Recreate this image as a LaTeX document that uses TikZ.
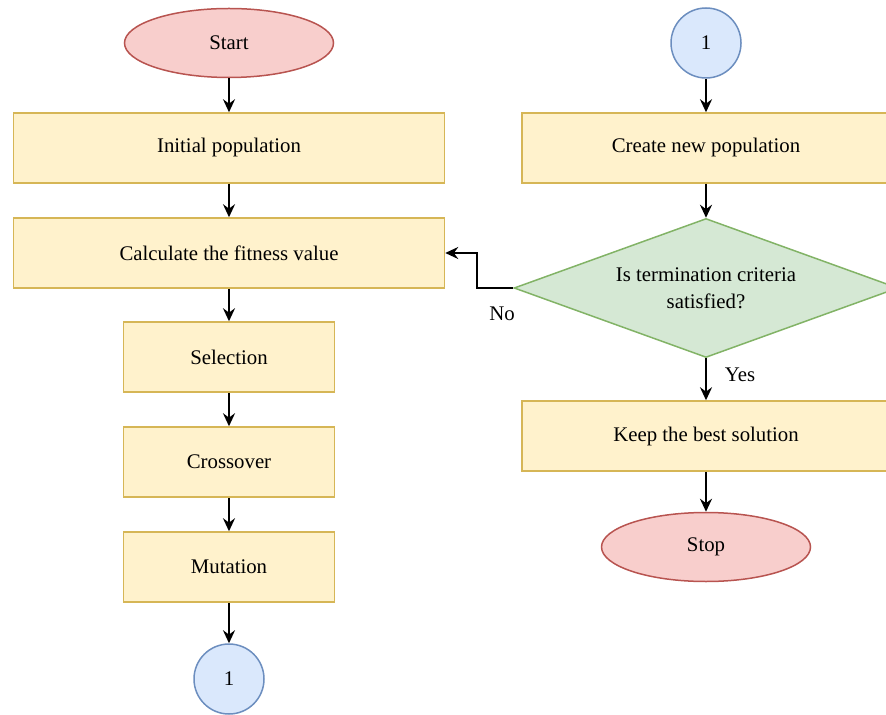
\documentclass[tikz,border=0pt]{standalone}
\usepackage{fontspec}
\setmainfont{Liberation Serif}
\usetikzlibrary{positioning,shapes,arrows.meta}

\definecolor{procfill}{HTML}{FFF2CC}
\definecolor{procline}{HTML}{D6B656}
\definecolor{termfill}{HTML}{F8CECC}
\definecolor{termline}{HTML}{B85450}
\definecolor{connfill}{HTML}{DAE8FC}
\definecolor{connline}{HTML}{6C8EBF}
\definecolor{decfill}{HTML}{D5E8D4}
\definecolor{decline}{HTML}{82B366}

\tikzset{
	proc/.style={rectangle, draw=procline, fill=procfill, line width=0.75pt, minimum height=35pt, inner sep=0pt},
	term/.style={ellipse, draw=termline, fill=termfill, line width=0.75pt, minimum width=104.5pt, minimum height=34.5pt, inner sep=0pt},
	conn/.style={circle, draw=connline, fill=connfill, line width=0.75pt, minimum size=35pt, inner sep=0pt},
	dec/.style={diamond, draw=decline, fill=decfill, line width=0.75pt, shape aspect=2.76, minimum width=192pt, minimum height=69.5pt, inner sep=0pt, align=center},
	flow/.style={->, line width=1.1pt},
	>={Stealth[length=6.5pt,width=6pt,inset=2.2pt]}
}

\begin{document}
\begin{tikzpicture}[x=0.5pt, y=-0.5pt, font=\fontsize{10.4}{13.5}\selectfont]
		\useasboundingbox (0,0) rectangle (886,715);
		% left column
		\node[term] (start) at (229, 43) {Start};
		\node[proc, minimum width=215.5pt] (init) at (229, 148) {Initial population};
		\node[proc, minimum width=215.5pt] (calc) at (229, 253) {Calculate the fitness value};
		\node[proc, minimum width=105.5pt] (sel) at (229, 357) {Selection};
		\node[proc, minimum width=105.5pt] (cross) at (229, 462) {Crossover};
		\node[proc, minimum width=105.5pt] (mut) at (229, 567) {Mutation};
		\node[conn] (c1a) at (229, 679) {1};
		% right column
		\node[conn] (c1b) at (706, 43) {1};
		\node[proc, minimum width=184pt] (newpop) at (706, 148) {Create new population};
		\node[dec] (term) at (706, 288) {Is termination criteria\\satisfied?};
		\node[proc, minimum width=184pt] (best) at (706, 436) {Keep the best solution};
		\node[term] (stop) at (706, 547) {Stop};
		\node (no) at (502, 314) {No};
		\node (yes) at (740, 375) {Yes};
		\draw[flow] (start) -- (init);
		\draw[flow] (init) -- (calc);
		\draw[flow] (calc) -- (sel);
		\draw[flow] (sel) -- (cross);
		\draw[flow] (cross) -- (mut);
		\draw[flow] (mut) -- (c1a);
		\draw[flow] (c1b) -- (newpop);
		\draw[flow] (newpop) -- (term);
		\draw[flow] (term) -- (best);
		\draw[flow] (best) -- (stop);
		\draw[flow] (term.west) -- ++(-36,0) |- (calc.east);
	\end{tikzpicture}
\end{document}
